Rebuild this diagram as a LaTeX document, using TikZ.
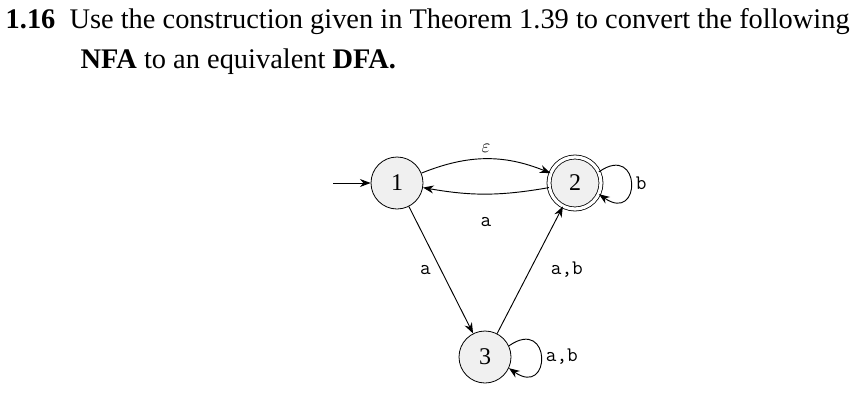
\documentclass[tikz,border=0pt]{standalone}
\usepackage{fontspec}
\setmainfont{Liberation Serif}
\usetikzlibrary{arrows.meta}
\begin{document}
\begin{tikzpicture}[x=0.75pt,y=-0.75pt,
  st/.style={circle,draw,fill=gray!12,minimum size=39pt,inner sep=0pt,line width=0.6pt,font=\fontsize{18}{20}\selectfont},
  acc/.style={st,double,double distance=2.4pt},
  ed/.style={-{Stealth[length=8pt,width=6pt]},line width=0.7pt},
  lb/.style={font=\ttfamily\fontsize{15.5}{18}\selectfont}]
\useasboundingbox (0,0) rectangle (868,400);
\node[anchor=west,font=\fontsize{21.3}{24}\selectfont] (t1) at (1,22) {\textbf{1.16}\enspace Use the construction given in Theorem 1.39 to convert the following};
\node[anchor=west,font=\fontsize{21.3}{24}\selectfont] (t2) at (76,62) {\textbf{NFA} to an equivalent \textbf{DFA.}};
\node[st] (n1) at (397,183) {1};
\node[acc] (n2) at (575,183) {2};
\node[st] (n3) at (485,357) {3};
\coordinate (s) at (333,183);
\draw[ed] (s) -- (n1);
\draw[ed] (n1) to[bend left=22] node[lb,above=1pt] {$\varepsilon$} (n2);
\draw[ed] (n2) to[bend left=10] node[lb,below=14pt] {a} (n1);
\draw[ed] (n1) -- node[lb,left=4pt] {a} (n3);
\draw[ed] (n3) -- node[lb,right=12pt] {a,b} (n2);
\draw[ed] (n2.25) to[out=35,in=-35,looseness=6] node[lb,right] {b} (n2.-25);
\draw[ed] (n3.25) to[out=35,in=-35,looseness=6] node[lb,right] {a,b} (n3.-25);
\end{tikzpicture}
\end{document}
